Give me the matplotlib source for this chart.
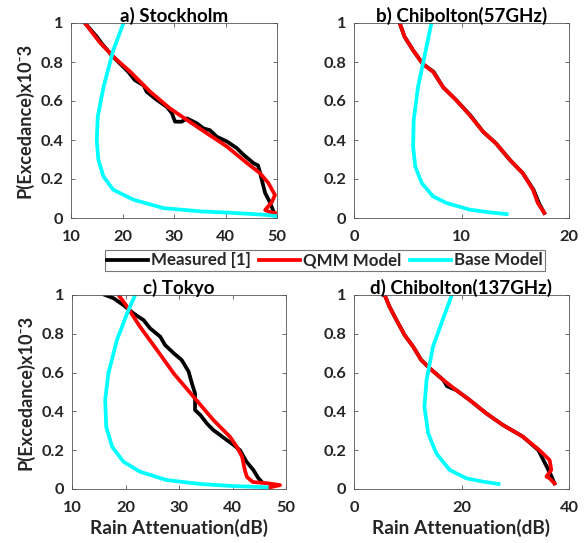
import matplotlib
matplotlib.use("Agg")
import matplotlib.pyplot as plt
from matplotlib.ticker import FuncFormatter

plt.rcParams['font.family'] = ['Lato', 'DejaVu Sans']
plt.rcParams['font.weight'] = 'bold'
plt.rcParams['font.size'] = 11

# a) Stockholm
a_meas_x = [12.7, 15.0, 16.0, 18.2, 21.1, 22.4, 24.1, 24.7, 26.7, 28.6, 29.6, 30.2, 31.5, 32.5,
            34.4, 35.7, 37.0, 38.3, 40.3, 42.2, 43.5, 45.5, 46.3, 46.7, 47.0, 47.7, 48.6, 49.6]
a_meas_y = [1.0, 0.93, 0.894, 0.826, 0.75, 0.707, 0.68, 0.647, 0.605, 0.57, 0.537, 0.494, 0.494, 0.511,
            0.486, 0.46, 0.45, 0.417, 0.392, 0.358, 0.324, 0.28, 0.27, 0.235, 0.2, 0.128, 0.082, 0.015]
a_qmm_x = [12.7, 15.6, 18.6, 21.5, 25.4, 29.2, 32.5, 36.4, 40.3, 44.2, 46.7, 48.3, 49.6, 49.0, 47.7, 48.6, 49.6]
a_qmm_y = [1.0, 0.9, 0.818, 0.75, 0.647, 0.562, 0.503, 0.434, 0.366, 0.281, 0.23, 0.18, 0.118, 0.082, 0.041, 0.031, 0.026]
a_base_x = [20.2, 18.2, 16.3, 15.2, 15.0, 15.3, 16.3, 18.2, 22.1, 27.9, 35.1, 41.6, 47.4, 50.0]
a_base_y = [1.0, 0.86, 0.67, 0.52, 0.40, 0.30, 0.213, 0.145, 0.094, 0.051, 0.034, 0.026, 0.017, 0.009]

# b) Chibolton(57GHz)
b_meas_x = [4.25, 4.7, 5.5, 6.4, 7.4, 8.3, 9.5, 10.8, 12.0, 13.2, 14.5, 15.7, 16.7, 17.2, 17.7]
b_meas_y = [1.0, 0.93, 0.86, 0.79, 0.75, 0.67, 0.605, 0.528, 0.443, 0.383, 0.298, 0.23, 0.145, 0.077, 0.026]
b_qmm_x = [4.25, 4.7, 5.5, 6.4, 7.35, 8.3, 9.5, 10.75, 12.0, 13.2, 14.5, 15.7, 16.65, 17.1, 17.7]
b_qmm_y = [1.0, 0.93, 0.86, 0.79, 0.75, 0.67, 0.605, 0.528, 0.443, 0.383, 0.298, 0.23, 0.145, 0.077, 0.026]
b_base_x = [7.2, 6.6, 5.95, 5.55, 5.5, 5.7, 6.3, 7.35, 8.6, 10.75, 12.6, 14.2]
b_base_y = [1.0, 0.84, 0.67, 0.5, 0.366, 0.264, 0.179, 0.111, 0.077, 0.043, 0.029, 0.02]

# c) Tokyo
c_meas_x = [16.2, 17.8, 19.6, 21.5, 23.4, 24.6, 26.5, 27.4, 29.0, 30.5, 31.8, 32.4, 33.0, 33.0,
            34.0, 35.2, 36.4, 37.1, 38.9, 40.2, 41.4, 42.6, 43.9, 44.8, 45.5]
c_meas_y = [1.0, 0.983, 0.948, 0.905, 0.87, 0.828, 0.785, 0.742, 0.70, 0.665, 0.605, 0.545, 0.493, 0.407,
            0.381, 0.338, 0.304, 0.29, 0.253, 0.227, 0.20, 0.141, 0.098, 0.057, 0.036]
c_qmm_x = [18.7, 20.3, 22.7, 25.9, 29.0, 32.7, 36.4, 39.5, 40.8, 41.8, 42.3, 42.7, 43.8, 46.4, 48.9, 46.4]
c_qmm_y = [1.0, 0.94, 0.837, 0.716, 0.596, 0.476, 0.356, 0.27, 0.218, 0.166, 0.098, 0.062, 0.036, 0.03, 0.02, 0.005]
c_base_x = [21.8, 20.3, 18.4, 16.8, 16.2, 16.4, 17.5, 19.6, 22.7, 27.7, 33.9, 40.2, 46.4]
c_base_y = [1.0, 0.905, 0.768, 0.596, 0.459, 0.32, 0.218, 0.141, 0.089, 0.046, 0.026, 0.015, 0.009]

# d) Chibolton(137GHz)
d_meas_x = [5.7, 6.6, 7.9, 9.4, 11.0, 12.5, 14.1, 16.6, 17.3, 19.0, 21.5, 24.6, 27.7, 31.4, 34.3, 35.4, 36.5, 37.3]
d_meas_y = [1.0, 0.94, 0.871, 0.794, 0.734, 0.665, 0.622, 0.562, 0.53, 0.51, 0.459, 0.39, 0.33, 0.27, 0.2, 0.14, 0.08, 0.029]
d_qmm_x = [5.7, 6.6, 7.9, 9.4, 11.0, 12.5, 14.1, 16.6, 19.0, 21.5, 24.6, 27.7, 31.4, 34.5, 36.4, 36.7, 35.8, 36.4, 37.3]
d_qmm_y = [1.0, 0.94, 0.871, 0.794, 0.734, 0.665, 0.622, 0.562, 0.51, 0.459, 0.39, 0.33, 0.27, 0.2, 0.149, 0.098, 0.064, 0.055, 0.029]
d_base_x = [18.2, 16.6, 14.7, 13.5, 13.1, 13.8, 15.3, 17.8, 20.9, 24.0, 26.9]
d_base_y = [1.0, 0.88, 0.734, 0.562, 0.424, 0.287, 0.184, 0.098, 0.055, 0.038, 0.026]

titles = ['a) Stockholm', 'b) Chibolton(57GHz)', 'c) Tokyo', 'd) Chibolton(137GHz)']
xlims = [(10, 50), (0, 20), (10, 50), (0, 40)]
xticks = [[10, 20, 30, 40, 50], [0, 10, 20], [10, 20, 30, 40, 50], [0, 20, 40]]
yticks = [0, 0.2, 0.4, 0.6, 0.8, 1]
legend_labels = ['Measured [1]', 'QMM Model', 'Base Model']
ylab = 'P(Excedance)x10\u207b3'
xlab = 'Rain Attenuation(dB)'

data = [
    (a_meas_x, a_meas_y, a_qmm_x, a_qmm_y, a_base_x, a_base_y),
    (b_meas_x, b_meas_y, b_qmm_x, b_qmm_y, b_base_x, b_base_y),
    (c_meas_x, c_meas_y, c_qmm_x, c_qmm_y, c_base_x, c_base_y),
    (d_meas_x, d_meas_y, d_qmm_x, d_qmm_y, d_base_x, d_base_y),
]

W, H = 587, 543
# axes boxes in pixels: left, top, right, bottom
boxes = [(71, 23, 277, 218), (354, 23, 569, 218), (72, 295, 286, 489), (354, 295, 569, 489)]

fig = plt.figure(figsize=(W / 100, H / 100), dpi=100)
rend = fig.canvas.get_renderer()


def fit_size(s, target_px, base=11):
    # font size that makes the text about target_px wide
    t = fig.text(0, 0, s, fontsize=base, fontweight='bold')
    w = t.get_window_extent(renderer=rend).width
    t.remove()
    return base * target_px / w


tick_fs = fit_size('0.8', 23)
title_fs = fit_size(titles[0], 108)
xlab_fs = fit_size(xlab, 177)
ylab_fs = fit_size(ylab, 155)
leg_fs = fit_size(legend_labels[0], 100)

txt = '#262626'
handles = []
for i, (l, t, r, b) in enumerate(boxes):
    ax = fig.add_axes([l / W, 1 - b / H, (r - l) / W, (b - t) / H])
    mx, my, qx, qy, bx, by = data[i]
    lm, = ax.plot(mx, my, color='black', lw=2.7)
    lq, = ax.plot(qx, qy, color='red', lw=2.7)
    lb, = ax.plot(bx, by, color='cyan', lw=2.7)
    handles = [lm, lq, lb]
    ax.set_xlim(*xlims[i])
    ax.set_ylim(0, 1)
    ax.set_xticks(xticks[i])
    ax.set_yticks(yticks)
    ax.yaxis.set_major_formatter(FuncFormatter(lambda v, p: '%g' % v))
    ax.tick_params(direction='in', top=True, right=True, length=3, width=0.6,
                   colors='#555555', labelcolor=txt, labelsize=tick_fs)
    ax.tick_params(axis='x', pad=8.5)
    ax.tick_params(axis='y', pad=5.5)
    for s in ax.spines.values():
        s.set_color('#555555')
        s.set_linewidth(0.6)
    ax.set_title(titles[i], fontsize=title_fs, fontweight='bold', color='black', pad=1)
    if i in (0, 2):
        ax.set_ylabel(ylab, fontsize=ylab_fs, fontweight='bold', color=txt, labelpad=5)
    if i in (2, 3):
        ax.set_xlabel(xlab, fontsize=xlab_fs, fontweight='bold', color=txt, labelpad=3)

leg = fig.legend(handles, legend_labels, loc='center', ncol=3,
                 bbox_to_anchor=((107 + 543) / 2 / W, 1 - 260.5 / H),
                 fancybox=False, edgecolor='#555555', fontsize=leg_fs, handlelength=2.4,
                 handletextpad=0.2, columnspacing=0.5, borderpad=0.15, borderaxespad=0)
leg.get_frame().set_linewidth(0.8)
for t in leg.get_texts():
    t.set_color(txt)

fig.savefig('out.png', dpi=100)
